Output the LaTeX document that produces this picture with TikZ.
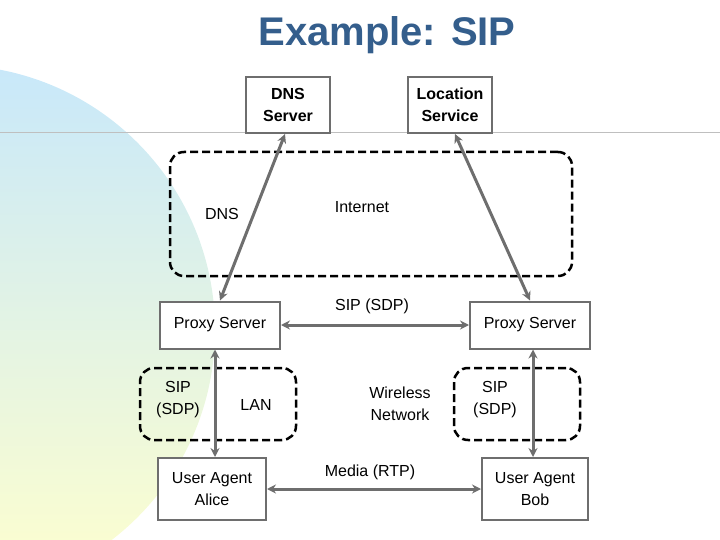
\documentclass[tikz,border=0pt]{standalone}
\usepackage{fontspec}
\setmainfont{Liberation Sans}
\usetikzlibrary{arrows.meta}
\definecolor{ttl}{RGB}{52,94,140}
\definecolor{bd}{RGB}{110,110,110}
\definecolor{bgb}{RGB}{200,232,250}
\definecolor{bgy}{RGB}{255,255,205}
\begin{document}
\begin{tikzpicture}[x=1pt,y=-1pt,
 box/.style={draw=bd,line width=2pt,fill=white,align=center,font=\fontsize{16}{22}\selectfont},
 lbl/.style={align=center,font=\fontsize{16}{22}\selectfont},
 grp/.style={draw=black,line width=2.5pt,dash pattern=on 8pt off 4pt,rounded corners=14pt},
 link/.style={draw=bd,line width=3pt,{Stealth[length=9pt,width=9pt]}-{Stealth[length=9pt,width=9pt]}}]
\useasboundingbox (0,0) rectangle (720,540);
\begin{scope}
\clip (0,0) rectangle (720,540);
\shade[top color=bgb,bottom color=bgy] (-50,330) circle (265);
\end{scope}
\draw[gray!50,line width=1pt] (0,133) -- (720,133);
\node[font=\bfseries\fontsize{40}{44}\selectfont,text=ttl] (title) at (387,35) {Example: SIP};
\node[box,font=\bfseries\fontsize{16}{22}\selectfont,minimum width=84pt,minimum height=56pt] (dns) at (288,105) {DNS\\Server};
\node[box,font=\bfseries\fontsize{16}{22}\selectfont,minimum width=84pt,minimum height=56pt] (loc) at (450,105) {Location\\Service};
\node[grp,minimum width=402pt,minimum height=124pt] (inet) at (371,214) {};
\node[lbl] (dnsl) at (222,214) {DNS};
\node[lbl] (intl) at (362,207) {Internet};
\node[box,minimum width=120pt,minimum height=47pt] (pl) at (220,325) {Proxy Server};
\node[box,minimum width=120pt,minimum height=47pt] (pr) at (530,325) {Proxy Server};
\node[lbl] (sip) at (372,306) {SIP (SDP)};
\node[grp,minimum width=156pt,minimum height=72pt] (lan) at (218,404) {};
\node[grp,minimum width=126pt,minimum height=72pt] (wr) at (517,404) {};
\node[lbl] (sl) at (178,400) {SIP\\(SDP)};
\node[lbl] (lanl) at (256,405) {LAN};
\node[lbl] (sr) at (495,400) {SIP\\(SDP)};
\node[lbl] (wn) at (400,404) {Wireless\\Network};
\node[box,minimum width=108pt,minimum height=62pt] (alice) at (212,489) {User Agent\\Alice};
\node[box,minimum width=106pt,minimum height=62pt] (bob) at (535,489) {User Agent\\Bob};
\node[lbl] (rtp) at (370,472) {Media (RTP)};
\draw[link] (dns.south) ++(-3,0) coordinate (a1) (a1) -- (pl.north);
\draw[link] (loc.south) ++(5,0) coordinate (a2) (a2) -- (pr.north);
\draw[link] (pl.east) -- (pr.east -| pr.west);
\draw[link] (pl.south) ++(-5,0) coordinate (a3) (a3) -- (a3 |- alice.north);
\draw[link] (pr.south) ++(3,0) coordinate (a4) (a4) -- (a4 |- bob.north);
\draw[link] (alice.east) -- (bob.west);
\end{tikzpicture}
\end{document}
